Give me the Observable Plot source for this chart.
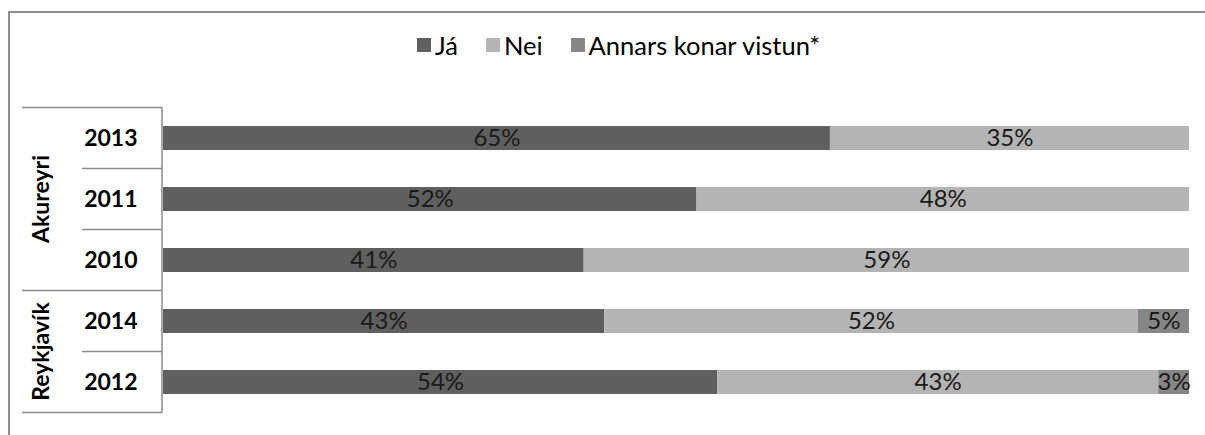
<!DOCTYPE html>
<html>
<head>
<meta charset="utf-8">
<script src="https://cdn.jsdelivr.net/npm/d3@7"></script>
<script src="https://cdn.jsdelivr.net/npm/@observablehq/plot@0.6"></script>
<style>
  html, body { margin: 0; padding: 0; background: #fff; overflow: hidden; }
  body { font-family: Lato, "Open Sans", sans-serif; }
  #wrap { position: relative; width: 1205px; height: 435px; }
  #frame { position: absolute; left: 8px; top: 11px; width: 1300px; height: 500px;
           border-left: 2px solid #8c8c8c; border-top: 2px solid #8c8c8c; }
  #legend { position: absolute; left: 417px; top: 32px; height: 26px; display: flex;
            align-items: center; font-size: 25.5px; color: #000; line-height: 26px; }
  #legend .item { display: flex; align-items: center; margin-right: 28px; }
  #legend .sw { width: 14px; height: 14px; margin-right: 4px; }
  #chart { position: absolute; left: 0; top: 90px; }
</style>
</head>
<body>
<div id="wrap">
  <div id="frame"></div>
  <div id="legend"></div>
  <div id="chart"></div>
</div>
<script>
// ---- data ----
const cities = ["Akureyri", "Akureyri", "Akureyri", "Reykjavík", "Reykjavík"];
const years = ["2013", "2011", "2010", "2014", "2012"];
const answers = ["Já", "Nei", "Annars konar vistun*"];
const ja = [65, 52, 41, 43, 54];
const nei = [35, 48, 59, 52, 43];
const annars = [0, 0, 0, 5, 3];
const colors = ["#5f5f5f", "#b4b4b4", "#868686"];

const keys = cities.map((c, i) => c + " " + years[i]);
const series = [ja, nei, annars];
const table = [];
keys.forEach((k, i) => {
  answers.forEach((a, j) => {
    table.push({key: k, city: cities[i], year: years[i], answer: a, value: series[j][i]});
  });
});
const yearOf = Object.fromEntries(keys.map((k, i) => [k, years[i]]));

// ---- legend ----
const legend = document.getElementById("legend");
answers.forEach((a, j) => {
  const it = document.createElement("div");
  it.className = "item";
  const sw = document.createElement("span");
  sw.className = "sw";
  sw.style.background = colors[j];
  const tx = document.createElement("span");
  tx.textContent = a;
  it.appendChild(sw); it.appendChild(tx);
  legend.appendChild(it);
});

// ---- left category box (drawn from the y scale) ----
function leftBox(index, scales, values, dimensions) {
  const y = scales.y;
  const step = y(keys[1]) - y(keys[0]);
  const bw = typeof y.bandwidth === "function" ? y.bandwidth() : step * 0.39;
  const gap = (step - bw) / 2;
  const top = k => y(k) - gap;
  const bottom = k => y(k) + bw + gap;
  const xr = dimensions.marginLeft - 1;
  const g = d3.create("svg:g");
  const lines = g.append("g").attr("stroke", "#8c8c8c").attr("stroke-width", 1.5);
  keys.forEach((k, i) => {
    const groupStart = i === 0 || cities[i] !== cities[i - 1];
    lines.append("line")
      .attr("x1", groupStart ? xr - 140 : xr - 80).attr("x2", xr)
      .attr("y1", top(k)).attr("y2", top(k));
  });
  const last = keys[keys.length - 1];
  lines.append("line").attr("x1", xr - 140).attr("x2", xr)
    .attr("y1", bottom(last)).attr("y2", bottom(last));
  lines.append("line").attr("x1", xr).attr("x2", xr)
    .attr("y1", top(keys[0])).attr("y2", bottom(last));
  // group labels
  const groups = [...new Set(cities)];
  groups.forEach(c => {
    const ks = keys.filter((k, i) => cities[i] === c);
    const cy = (top(ks[0]) + bottom(ks[ks.length - 1])) / 2;
    g.append("text")
      .attr("transform", `translate(${xr - 121},${cy}) rotate(-90)`)
      .attr("text-anchor", "middle")
      .attr("dy", "0.35em")
      .attr("font-weight", "bold")
      .attr("font-size", 23)
      .attr("fill", "#000")
      .text(c);
  });
  return g.node();
}

const chart = Plot.plot({
  width: 1205,
  height: 345,
  marginTop: 16,
  marginBottom: 22,
  marginLeft: 163,
  marginRight: 16,
  style: {fontFamily: "Lato, 'Open Sans', sans-serif", background: "transparent", overflow: "visible"},
  x: {domain: [0, 100], axis: null},
  y: {domain: keys, paddingInner: 0.61, paddingOuter: 0.305, axis: null},
  color: {domain: answers, range: colors},
  marks: [
    Plot.barX(table, Plot.stackX({x: "value", y: "key", fill: "answer"})),
    Plot.text(table.filter(d => d.value > 0), Plot.stackX({
      x: "value", y: "key", z: "answer",
      text: d => d.value + "%", fill: "#1a1a1a", fontSize: 24
    })),
    Plot.text(keys, {
      y: d => d, text: d => yearOf[d], frameAnchor: "left", textAnchor: "end",
      dx: -26, fontWeight: "bold", fontSize: 23, fill: "#000"
    }),
    leftBox
  ]
});
document.getElementById("chart").appendChild(chart);
</script>
</body>
</html>
